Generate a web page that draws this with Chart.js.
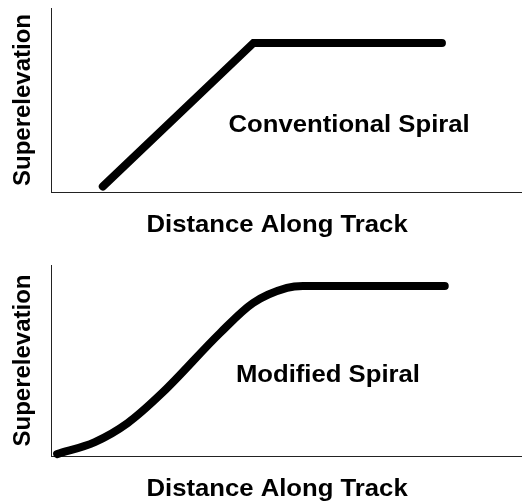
<!DOCTYPE html>
<html>
<head>
<meta charset="utf-8">
<script src="https://cdn.jsdelivr.net/npm/chart.js@4.4.0/dist/chart.umd.min.js"></script>
<style>
  body { margin: 0; background: #fff; }
  canvas { display: block; }
</style>
</head>
<body>
<canvas id="conventional" width="522" height="250"></canvas>
<canvas id="modified" width="522" height="252"></canvas>
<script>
// Conventional spiral: straight ramp, then flat
const convDistance = [11, 43, 83];
const convSuper = [3, 81, 81];

// Modified spiral: S-shaped ramp, then flat
const modDistance = [1.3, 9.3, 16.3, 23.6, 35.9, 42.9, 50.1, 53.5, 83.6];
const modSuper = [1.0, 7.3, 17.3, 33.0, 64.4, 80.1, 88.0, 89.0, 89.0];

const yTitle = "Superelevation";
const xTitle = "Distance Along Track";

const FONT = "'Liberation Sans', Arial, sans-serif";

// draws the curve name inside the plot and the x title under the axis
const labelPlugin = {
  id: 'labels',
  afterDraw(chart, args, opts){
    const ctx = chart.ctx;
    const xs = chart.scales.x, ys = chart.scales.y;
    ctx.save();
    ctx.fillStyle = '#000';
    ctx.font = 'bold 24px ' + FONT;
    ctx.textAlign = 'center';
    ctx.textBaseline = 'alphabetic';
    const put = (text, x, y) => {
      ctx.save();
      ctx.translate(x, y);
      ctx.scale(1.07, 1);
      ctx.fillText(text, 0, 0);
      ctx.restore();
    };
    put(opts.note, xs.getPixelForValue(opts.noteX), ys.getPixelForValue(opts.noteY));
    put(xTitle, xs.getPixelForValue(48), chart.chartArea.bottom + 40);
    ctx.restore();
  }
};

function makeChart(id, xs, ys, cfg){
  const points = xs.map((x, i) => ({x: x, y: ys[i]}));
  return new Chart(document.getElementById(id), {
    type: 'line',
    data: {
      datasets: [{
        data: points,
        borderColor: '#000',
        borderWidth: 8,
        borderCapStyle: 'round',
        borderJoinStyle: cfg.join,
        cubicInterpolationMode: cfg.smooth ? 'monotone' : 'default',
        pointRadius: 0,
        fill: false,
        clip: false
      }]
    },
    options: {
      responsive: false,
      animation: false,
      events: [],
      layout: { padding: { top: cfg.top, right: 0, left: 0, bottom: 0 } },
      plugins: {
        legend: { display: false },
        tooltip: { enabled: false },
        labels: { note: cfg.note, noteX: cfg.noteX, noteY: cfg.noteY }
      },
      scales: {
        x: {
          type: 'linear', min: 0, max: 100,
          ticks: { display: false },
          grid: { display: false },
          border: { display: true, color: '#222', width: 1 },
          afterFit: s => { s.height = cfg.bottom; }
        },
        y: {
          min: 0, max: 100,
          ticks: { display: false },
          grid: { display: false },
          border: { display: true, color: '#222', width: 1 },
          title: {
            display: true,
            text: yTitle,
            color: '#000',
            font: { family: FONT, size: 24, weight: 'bold', lineHeight: 1.2 },
            padding: { top: 9, bottom: 0 }
          },
          afterFit: s => { s.width = 51; }
        }
      }
    },
    plugins: [labelPlugin]
  });
}

makeChart('conventional', convDistance, convSuper,
  { join: 'miter', smooth: false, top: 8, bottom: 58, note: 'Conventional Spiral', noteX: 63.3, noteY: 32.6 });
makeChart('modified', modDistance, modSuper,
  { join: 'round', smooth: true, top: 15, bottom: 46, note: 'Modified Spiral', noteX: 58.8, noteY: 38.7 });
</script>
</body>
</html>
